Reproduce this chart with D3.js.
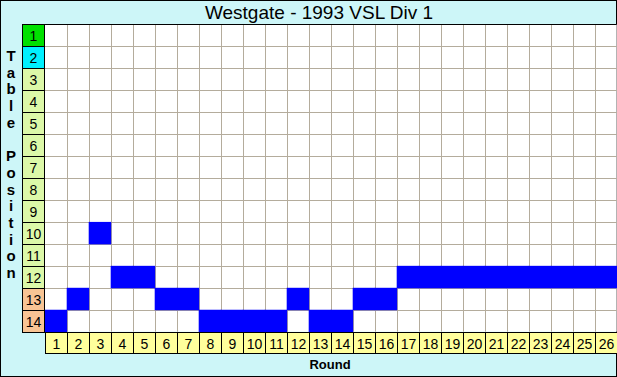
<!DOCTYPE html>
<html>
<head>
<meta charset="utf-8">
<script src="https://cdn.jsdelivr.net/npm/d3@7"></script>
<style>
body{margin:0;padding:0;background:#fff;}
svg{display:block;}
</style>
</head>
<body>
<div id="chart"></div>
<script>
// data
var title = "Westgate - 1993 VSL Div 1";
var rounds = d3.range(1, 27);
var positions = d3.range(1, 15);
var finishPos = [14,13,10,12,12,13,13,14,14,14,14,13,14,14,13,13,12,12,12,12,12,12,12,12,12,12];
var yLabel = "Table Position";
var xLabel = "Round";

var w = 617, h = 377;
var svg = d3.select("#chart").append("svg")
	.attr("width", w)
	.attr("height", h);

// background + border
svg.append("rect").attr("x",0.5).attr("y",0.5).attr("width",w-1).attr("height",h-1)
	.attr("fill","#cdf6f8").attr("stroke","#000");

var x = d3.scaleBand().domain(rounds).range([44.7, 616.7]);
var y = d3.scaleBand().domain(positions).range([24.3, 331.7]);

// plot area
svg.append("rect")
	.attr("x", x.range()[0]).attr("y", y.range()[0])
	.attr("width", x.range()[1]-x.range()[0]).attr("height", y.range()[1]-y.range()[0])
	.attr("fill","#fff");

// grid
svg.append("g").selectAll("line.v")
	.data(rounds.slice(1))
	.enter().append("line")
	.attr("x1", function(d){return Math.round(x(d))+0.5;})
	.attr("x2", function(d){return Math.round(x(d))+0.5;})
	.attr("y1", y.range()[0]).attr("y2", y.range()[1])
	.attr("stroke","#b4ac9c");
svg.append("g").selectAll("line.h")
	.data(positions.slice(1))
	.enter().append("line")
	.attr("y1", function(d){return Math.round(y(d))+0.5;})
	.attr("y2", function(d){return Math.round(y(d))+0.5;})
	.attr("x1", x.range()[0]).attr("x2", x.range()[1])
	.attr("stroke","#b4ac9c");

// position cells
svg.append("g").selectAll("rect")
	.data(finishPos)
	.enter().append("rect")
	.attr("x", function(d,i){return x(rounds[i]);})
	.attr("y", function(d){return y(d);})
	.attr("width", x.bandwidth()+0.5)
	.attr("height", y.bandwidth()+0.5)
	.attr("fill","#0000ff");

// top line of plot
svg.append("line")
	.attr("x1", 22).attr("x2", x.range()[1])
	.attr("y1", 24.5).attr("y2", 24.5)
	.attr("stroke","#000");

// row labels
function rowColor(p){
	if(p===1) return "#00e000";
	if(p===2) return "#00f0ff";
	if(p>=13) return "#f8c494";
	return "#dcf8a8";
}
var rowG = svg.append("g").selectAll("g")
	.data(positions)
	.enter().append("g")
	.attr("transform", function(d){return "translate(22.5," + (Math.round(y(d))+0.5) + ")";});
rowG.append("rect")
	.attr("width", 22).attr("height", Math.round(y.bandwidth()))
	.attr("fill", rowColor).attr("stroke","#000");
rowG.append("text")
	.attr("x", 11).attr("y", 16)
	.attr("text-anchor","middle")
	.style("font-family","Liberation Sans, Arial, sans-serif")
	.style("font-size","14px")
	.text(function(d){return d;});

// column labels
var colG = svg.append("g").selectAll("g")
	.data(rounds)
	.enter().append("g")
	.attr("transform", function(d){return "translate(" + (Math.round(x(d))+0.5) + ",332.5)";});
colG.append("rect")
	.attr("width", Math.round(x.bandwidth())).attr("height", 21)
	.attr("fill","#ffff9c").attr("stroke","#000");
colG.append("text")
	.attr("x", 11).attr("y", 16)
	.attr("text-anchor","middle")
	.style("font-family","Liberation Sans, Arial, sans-serif")
	.style("font-size","14px")
	.text(function(d){return d;});

// title
svg.append("text")
	.attr("x", 319).attr("y", 19)
	.attr("text-anchor","middle")
	.style("font-family","Liberation Sans, Arial, sans-serif")
	.style("font-size","19px")
	.text(title);

// y label, one letter per line
svg.append("g").selectAll("text")
	.data(yLabel.split(""))
	.enter().append("text")
	.attr("x", 11)
	.attr("y", function(d,i){return 61 + i*16.7;})
	.attr("text-anchor","middle")
	.style("font-family","Liberation Sans, Arial, sans-serif")
	.style("font-size","15px")
	.style("font-weight","bold")
	.text(function(d){return d;});

// x label
svg.append("text")
	.attr("x", 330).attr("y", 369)
	.attr("text-anchor","middle")
	.style("font-family","Liberation Sans, Arial, sans-serif")
	.style("font-size","13px")
	.style("font-weight","bold")
	.text(xLabel);
</script>
</body>
</html>
